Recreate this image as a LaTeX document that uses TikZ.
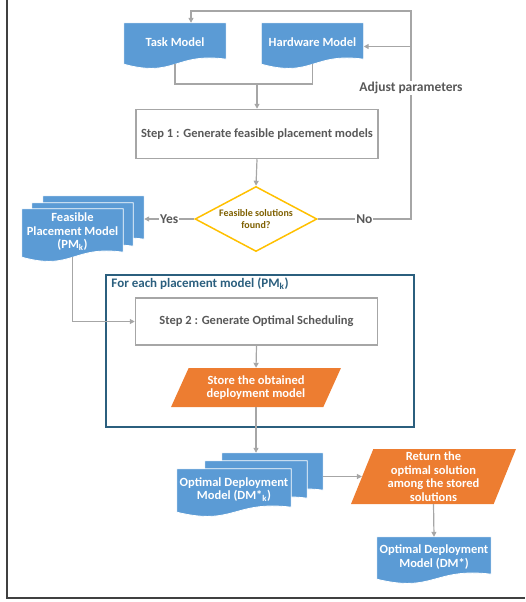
\documentclass[tikz,border=0pt]{standalone}
\usepackage{fontspec}
\setmainfont{Carlito}
\usepackage{tikz}
\usetikzlibrary{calc, arrows.meta, positioning, shapes.geometric, backgrounds}
\usepackage{xcolor}
\definecolor{docblue}{HTML}{5B9BD5}
\definecolor{storeorange}{HTML}{ED7D31}
\definecolor{linegray}{HTML}{A6A6A6}
\definecolor{textgray}{HTML}{595959}
\definecolor{decgold}{HTML}{FFC000}
\definecolor{dectext}{HTML}{7F6000}
\definecolor{loopblue}{HTML}{2B5F7E}
\definecolor{framegray}{HTML}{404040}
% wavy document shape behind a node
\newcommand{\wavedoc}[1]{%
  \fill[docblue, draw=white, line width=0.8pt] (#1.north west) -- (#1.north east) -- ([yshift=3pt]#1.south east)
    .. controls ([yshift=10pt]#1.south) and ([yshift=-16pt]#1.south) .. ([yshift=-2pt]#1.south west) -- cycle;}

\begin{document}
\begin{tikzpicture}[x=1pt, y=-1pt,
    line/.style={draw=linegray, line width=1.2pt},
    arr/.style={line, -{Triangle[length=5pt, width=5pt]}},
    doctext/.style={inner sep=0pt, align=center, text=white, font=\bfseries\fontsize{12.5}{13.5}\selectfont},
    stepbox/.style={draw=linegray, line width=1.5pt, fill=white, minimum width=242pt, text=textgray, font=\bfseries\fontsize{12.5}{13.5}\selectfont},
    decision/.style={diamond, draw=decgold, line width=1.5pt, fill=white, aspect=1.9, minimum width=122pt, minimum height=65pt, inner sep=0pt, align=center, text=dectext, font=\bfseries\fontsize{10}{12}\selectfont},
    iobox/.style={trapezium, trapezium stretches=true, fill=storeorange, inner sep=0pt, align=center, text=white, font=\bfseries\fontsize{12.5}{13.5}\selectfont},
    loopbox/.style={draw=loopblue, line width=1.5pt, minimum width=308pt, minimum height=152pt},
    lbl/.style={fill=white, inner sep=1pt, text=textgray, font=\bfseries\fontsize{13.5}{15}\selectfont}]
    \useasboundingbox (0,0) rectangle (525,602);

    % Outer frame
    \draw[framegray, line width=1.5pt] (7,0) -- (7,598) -- (525,598);

    % Input models
    \node[doctext, minimum width=102pt, minimum height=39pt] (task) at (175,42.5) {Task Model};
    \node[doctext, minimum width=102pt, minimum height=39pt] (hw) at (312.5,42.5) {Hardware Model};

    % Step 1 and the test
    \node[stepbox, minimum height=49pt] (step1) at (257,134) {Step 1 : Generate feasible placement models};
    \node[decision] (dec) at (256,219) {Feasible solutions\\found?};

    % Feasible placement models (stacked)
    \node[doctext, minimum width=101pt, minimum height=46pt] (feas3) at (93.5,219) {};
    \node[doctext, minimum width=101pt, minimum height=46pt] (feas2) at (82.5,226) {};
    \node[doctext, minimum width=101pt, minimum height=46pt] (feas) at (72.5,232) {Feasible\\Placement Model\\(PM\textsubscript{k})};

    % Loop over the placement models
    \node[loopbox] (loop) at (260,351) {};
    \node[anchor=north west, inner sep=1pt, text=loopblue, font=\bfseries\fontsize{13}{15}\selectfont] (looptitle)
        at ([xshift=5pt, yshift=-2pt]loop.north west) {For each placement model (PM\textsubscript{k})};
    \node[stepbox, minimum height=47pt] (step2) at (256.5,321.5) {Step 2 : Generate Optimal Scheduling};
    \node[iobox, trapezium left angle=62, trapezium right angle=118, minimum width=170pt, minimum height=39pt] (store)
        at (256,387.5) {Store the obtained\\deployment model};

    % Optimal deployment models (stacked)
    \node[doctext, minimum width=101pt, minimum height=40pt] (dmk3) at (272.5,473) {};
    \node[doctext, minimum width=102pt, minimum height=40pt] (dmk2) at (256,481) {};
    \node[doctext, minimum width=114pt, minimum height=41pt] (dmk) at (234,489.5) {Optimal Deployment\\Model (DM*\textsubscript{k})};

    % Final selection
    \node[iobox, trapezium left angle=71, trapezium right angle=109, minimum width=165pt, minimum height=55pt] (ret)
        at (433.5,476.5) {Return the\\optimal solution\\among the stored\\solutions};
    \node[doctext, minimum width=114pt, minimum height=40pt] (dmopt) at (434,557) {Optimal Deployment\\Model (DM*)};

    % Document shapes
    \begin{scope}[on background layer]
        \wavedoc{feas3} \wavedoc{feas2} \wavedoc{feas}
        \wavedoc{dmk3} \wavedoc{dmk2} \wavedoc{dmk}
        \wavedoc{task} \wavedoc{hw} \wavedoc{dmopt}
    \end{scope}

    % Connectors
    \coordinate (join) at (257,84);
    \coordinate (fbtop) at (411,11);
    \coordinate (hwin) at ([yshift=-4pt]hw.east);
    \draw[line] ([yshift=-2pt]task.south) |- (join) -| ([yshift=-2pt]hw.south);
    \draw[arr] (join) -- (step1.north);
    \draw[arr] (step1.south) -- (dec.north);
    \draw[arr] (dec.west) -- node[lbl] {Yes} (feas3.east);
    \draw[arr] (dec.east) -- node[lbl] {No} (dec.east -| fbtop)
        -- node[lbl, pos=0.63] {Adjust parameters} (fbtop) -| ([xshift=16pt]task.north);
    \draw[arr] (fbtop |- hwin) -- (hwin);
    \draw[arr] ([yshift=-2pt]feas.south) |- (step2.west);
    \draw[arr] (step2.south) -- (store.north);
    \draw[arr] (store.south) -- (store.south |- dmk3.north);
    \draw[arr] (dmk3.east |- ret.west) -- (ret.west);
    \draw[arr] (ret.south) -- (dmopt.north);
\end{tikzpicture}
\end{document}
